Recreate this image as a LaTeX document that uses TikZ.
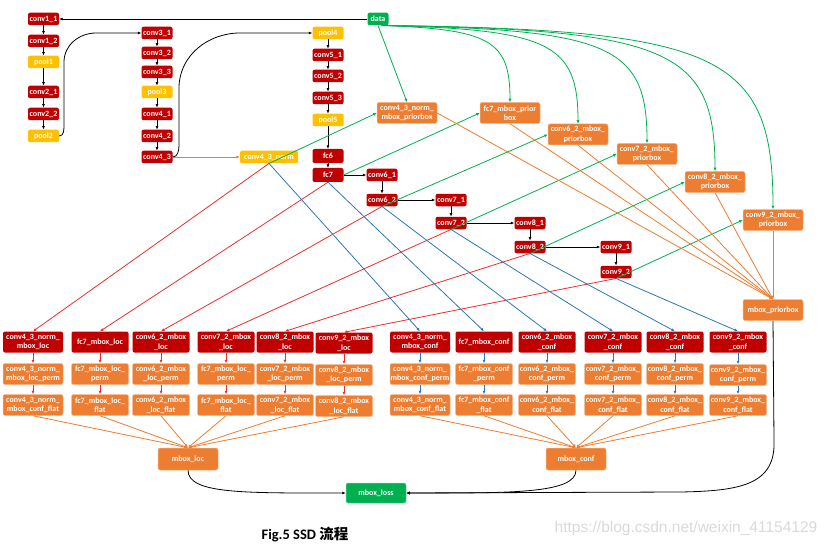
\documentclass[tikz,border=0pt]{standalone}
\usepackage{fontspec}
\setmainfont{Carlito}
\newfontfamily\cjkfont{Noto Sans CJK SC}
\newfontfamily\markfont{Liberation Sans}
\usetikzlibrary{arrows.meta}
\definecolor{convred}{RGB}{192,0,0}
\definecolor{poolyellow}{RGB}{255,192,0}
\definecolor{headorange}{RGB}{237,125,49}
\definecolor{datagreen}{RGB}{0,176,80}
\definecolor{locred}{RGB}{235,45,45}
\definecolor{confblue}{RGB}{46,117,182}
\begin{document}
\begin{tikzpicture}[x=1pt,y=-1pt,
  box/.style={rounded corners=2pt,text=white,font=\bfseries\fontsize{8}{9.5}\selectfont,align=center,inner sep=0pt,minimum width=31pt,minimum height=12.5pt},
  convbox/.style={box,fill=convred},
  poolbox/.style={box,fill=poolyellow},
  greenbox/.style={box,fill=datagreen},
  headbox/.style={box,fill=convred,minimum width=57pt,minimum height=21pt},
  orangebox/.style={box,fill=headorange,draw=headorange!55!white,line width=0.5pt,minimum width=57pt,minimum height=21pt},
  link/.style={-{Latex[length=3.5pt,width=3pt]},line width=0.8pt},
  priorlink/.style={link,draw=datagreen},
  loclink/.style={link,draw=locred},
  conflink/.style={link,draw=confblue},
  boxlink/.style={link,draw=headorange}]
\useasboundingbox (0,0) rectangle (829,548);

\node[greenbox,minimum width=21pt] (data) at (378,19) {data};
\node[convbox] (conv1_1) at (43.5,19) {conv1\_1};
\node[convbox] (conv1_2) at (43.5,41) {conv1\_2};
\node[poolbox] (pool1) at (43.5,62) {pool1};
\node[convbox] (conv2_1) at (43.5,92) {conv2\_1};
\node[convbox] (conv2_2) at (43.5,114) {conv2\_2};
\node[poolbox] (pool2) at (43.5,136) {pool2};
\node[convbox] (conv3_1) at (157,33) {conv3\_1};
\node[convbox] (conv3_2) at (157,53) {conv3\_2};
\node[convbox] (conv3_3) at (157,72) {conv3\_3};
\node[poolbox] (pool3) at (157,92) {pool3};
\node[convbox] (conv4_1) at (157,114) {conv4\_1};
\node[convbox] (conv4_2) at (157,136) {conv4\_2};
\node[convbox] (conv4_3) at (157,157) {conv4\_3};
\node[poolbox,minimum width=58pt] (conv4_3_norm) at (269,157) {conv4\_3\_norm};
\node[poolbox] (pool4) at (328,33) {pool4};
\node[convbox] (conv5_1) at (328,55) {conv5\_1};
\node[convbox] (conv5_2) at (328,76) {conv5\_2};
\node[convbox] (conv5_3) at (328,98) {conv5\_3};
\node[poolbox] (pool5) at (328,120) {pool5};
\node[convbox,minimum height=14pt] (fc6) at (328,156) {fc6};
\node[convbox,minimum height=14pt] (fc7) at (328,175) {fc7};
\node[convbox] (conv6_1) at (382,175) {conv6\_1};
\node[convbox] (conv6_2) at (382,200) {conv6\_2};
\node[convbox] (conv7_1) at (451,200) {conv7\_1};
\node[convbox] (conv7_2) at (451,223) {conv7\_2};
\node[convbox] (conv8_1) at (530,223) {conv8\_1};
\node[convbox] (conv8_2) at (530,247) {conv8\_2};
\node[convbox] (conv9_1) at (616,247) {conv9\_1};
\node[convbox] (conv9_2) at (616,272) {conv9\_2};

\node[orangebox,minimum width=60pt] (norm_prior) at (407,113) {conv4\_3\_norm\_\\mbox\_priorbox};
\node[orangebox,minimum width=60pt] (fc7_prior) at (510,113) {fc7\_mbox\_prior\\box};
\node[orangebox,minimum width=60pt] (conv6_2_prior) at (578,134.5) {conv6\_2\_mbox\_\\priorbox};
\node[orangebox,minimum width=60pt] (conv7_2_prior) at (647,154) {conv7\_2\_mbox\_\\priorbox};
\node[orangebox,minimum width=60pt] (conv8_2_prior) at (715,182) {conv8\_2\_mbox\_\\priorbox};
\node[orangebox,minimum width=60pt] (conv9_2_prior) at (773,220) {conv9\_2\_mbox\_\\priorbox};
\node[orangebox,minimum width=60pt] (mbox_priorbox) at (773,310) {mbox\_priorbox};

\node[headbox,minimum width=60pt] (norm_loc) at (33,342) {conv4\_3\_norm\_\\mbox\_loc};
\node[headbox] (fc7_loc) at (100,342) {fc7\_mbox\_loc};
\node[headbox] (conv6_2_loc) at (161,342) {conv6\_2\_mbox\\\_loc};
\node[headbox] (conv7_2_loc) at (226,342) {conv7\_2\_mbox\\\_loc};
\node[headbox] (conv8_2_loc) at (285,342) {conv8\_2\_mbox\\\_loc};
\node[headbox] (conv9_2_loc) at (344,343) {conv9\_2\_mbox\\\_loc};
\node[orangebox,minimum width=60pt] (norm_loc_perm) at (33,374) {conv4\_3\_norm\_\\mbox\_loc\_perm};
\node[orangebox] (fc7_loc_perm) at (100,374) {fc7\_mbox\_loc\_\\perm};
\node[orangebox] (conv6_2_loc_perm) at (161,374) {conv6\_2\_mbox\\\_loc\_perm};
\node[orangebox] (conv7_2_loc_perm) at (226,374) {fc7\_mbox\_loc\_\\perm};
\node[orangebox] (conv8_2_loc_perm) at (285,374) {conv7\_2\_mbox\\\_loc\_perm};
\node[orangebox] (conv9_2_loc_perm) at (344,375) {conv8\_2\_mbox\\\_loc\_perm};
\node[orangebox,minimum width=60pt] (norm_loc_flat) at (33,405) {conv4\_3\_norm\_\\mbox\_conf\_flat};
\node[orangebox] (fc7_loc_flat) at (100,405) {fc7\_mbox\_loc\_\\flat};
\node[orangebox] (conv6_2_loc_flat) at (161,405) {conv6\_2\_mbox\\\_loc\_flat};
\node[orangebox] (conv7_2_loc_flat) at (226,405) {fc7\_mbox\_loc\_\\flat};
\node[orangebox] (conv8_2_loc_flat) at (285,405) {conv7\_2\_mbox\\\_loc\_flat};
\node[orangebox] (conv9_2_loc_flat) at (344,406) {conv8\_2\_mbox\\\_loc\_flat};

\node[headbox,minimum width=60pt] (norm_conf) at (420,342) {conv4\_3\_norm\_\\mbox\_conf};
\node[headbox] (fc7_conf) at (484,342) {fc7\_mbox\_conf};
\node[headbox] (conv6_2_conf) at (547,342) {conv6\_2\_mbox\\\_conf};
\node[headbox] (conv7_2_conf) at (613,342) {conv7\_2\_mbox\\\_conf};
\node[headbox] (conv8_2_conf) at (675,342) {conv8\_2\_mbox\\\_conf};
\node[headbox] (conv9_2_conf) at (738,342) {conv9\_2\_mbox\\\_conf};
\node[orangebox,minimum width=60pt] (norm_conf_perm) at (420,374) {conv4\_3\_norm\_\\mbox\_conf\_perm};
\node[orangebox] (fc7_conf_perm) at (484,374) {fc7\_mbox\_conf\\\_perm};
\node[orangebox] (conv6_2_conf_perm) at (547,374) {conv6\_2\_mbox\_\\conf\_perm};
\node[orangebox] (conv7_2_conf_perm) at (613,374) {conv7\_2\_mbox\_\\conf\_perm};
\node[orangebox] (conv8_2_conf_perm) at (675,374) {conv8\_2\_mbox\_\\conf\_perm};
\node[orangebox] (conv9_2_conf_perm) at (738,375) {conv9\_2\_mbox\_\\conf\_perm};
\node[orangebox,minimum width=60pt] (norm_conf_flat) at (420,405) {conv4\_3\_norm\_\\mbox\_conf\_flat};
\node[orangebox] (fc7_conf_flat) at (484,405) {fc7\_mbox\_conf\\\_flat};
\node[orangebox] (conv6_2_conf_flat) at (547,405) {conv6\_2\_mbox\_\\conf\_flat};
\node[orangebox] (conv7_2_conf_flat) at (613,405) {conv7\_2\_mbox\_\\conf\_flat};
\node[orangebox] (conv8_2_conf_flat) at (675,405) {conv8\_2\_mbox\_\\conf\_flat};
\node[orangebox] (conv9_2_conf_flat) at (738,405) {conv9\_2\_mbox\_\\conf\_flat};

\node[orangebox,minimum width=60pt,minimum height=22pt] (mbox_loc) at (188,459) {mbox\_loc};
\node[orangebox,minimum width=60pt,minimum height=22pt] (mbox_conf) at (576,459) {mbox\_conf};
\node[greenbox,minimum width=60pt,minimum height=20pt,draw=datagreen!55!white,line width=0.5pt] (mbox_loss) at (376,493) {mbox\_loss};

\node[font=\bfseries\fontsize{14.5}{16}\selectfont] (title) at (305,535) {Fig.5 SSD {\cjkfont 流程}};
\node[font=\markfont\fontsize{15.5}{17}\selectfont,text=gray!30] (mark) at (686,528) {https://blog.csdn.net/weixin\_41154129};

\draw[link] (data) -- (conv1_1);
\draw[link] (conv1_1) -- (conv1_2);
\draw[link] (conv1_2) -- (pool1);
\draw[link] (pool1) -- (conv2_1);
\draw[link] (conv2_1) -- (conv2_2);
\draw[link] (conv2_2) -- (pool2);
\draw[link] (pool2.east) to[out=0,in=-90] (64,124) -- (64,62) to[out=90,in=180] (96,33) -- (conv3_1.west);
\draw[link] (conv3_1) -- (conv3_2);
\draw[link] (conv3_2) -- (conv3_3);
\draw[link] (conv3_3) -- (pool3);
\draw[link] (pool3) -- (conv4_1);
\draw[link] (conv4_1) -- (conv4_2);
\draw[link] (conv4_2) -- (conv4_3);
\draw[link] (conv4_3.east) to[out=0,in=-90] (179,145) -- (179,88) to[out=90,in=180] (240,33) -- (pool4.west);
\draw[boxlink] (conv4_3) -- (conv4_3_norm);
\draw[link] (pool4) -- (conv5_1);
\draw[link] (conv5_1) -- (conv5_2);
\draw[link] (conv5_2) -- (conv5_3);
\draw[link] (conv5_3) -- (pool5);
\draw[link] (pool5) -- (fc6);
\draw[link] (fc6) -- (fc7);
\draw[link] (fc7) -- (conv6_1);
\draw[link] (conv6_1) -- (conv6_2);
\draw[link] (conv6_2) -- (conv7_1);
\draw[link] (conv7_1) -- (conv7_2);
\draw[link] (conv7_2) -- (conv8_1);
\draw[link] (conv8_1) -- (conv8_2);
\draw[link] (conv8_2) -- (conv9_1);
\draw[link] (conv9_1) -- (conv9_2);

\draw[priorlink] (data.south) -- (norm_prior.north);
\draw[priorlink] (data.300) .. controls +(108,4) and +(0,-62) .. (fc7_prior.north);
\draw[priorlink] (data.300) .. controls +(168,4) and +(0,-80) .. (conv6_2_prior.north);
\draw[priorlink] (data.300) .. controls +(228,4) and +(0,-98) .. (conv7_2_prior.north);
\draw[priorlink] (data.300) .. controls +(286,4) and +(0,-122) .. (conv8_2_prior.north);
\draw[priorlink] (data.300) .. controls +(338,4) and +(0,-155) .. (conv9_2_prior.north);
\draw[priorlink] (conv4_3_norm.south) -- (norm_prior.west);
\draw[priorlink] (fc7.east) -- (fc7_prior.west);
\draw[priorlink] (conv6_2.south) -- (conv6_2_prior.west);
\draw[priorlink] (conv7_2.south) -- (conv7_2_prior.west);
\draw[priorlink] (conv8_2.south) -- (conv8_2_prior.west);
\draw[priorlink] (conv9_2.south) -- (conv9_2_prior.west);

\draw[boxlink] (norm_prior.east) -- (mbox_priorbox.north);
\draw[boxlink] (fc7_prior.south) -- (mbox_priorbox.north);
\draw[boxlink] (conv6_2_prior.south) -- (mbox_priorbox.north);
\draw[boxlink] (conv7_2_prior.south) -- (mbox_priorbox.north);
\draw[boxlink] (conv8_2_prior.south) -- (mbox_priorbox.north);
\draw[boxlink] (conv9_2_prior.south) -- (mbox_priorbox.north);

\draw[loclink] (conv4_3_norm.south) -- (norm_loc.north);
\draw[loclink] (fc7.south) -- (fc7_loc.north);
\draw[loclink] (conv6_2.south) -- (conv6_2_loc.north);
\draw[loclink] (conv7_2.south) -- (conv7_2_loc.north);
\draw[loclink] (conv8_2.south) -- (conv8_2_loc.north);
\draw[loclink] (conv9_2.south) -- (conv9_2_loc.north);
\draw[conflink] (conv4_3_norm.south) -- (norm_conf.north);
\draw[conflink] (fc7.south) -- (fc7_conf.north);
\draw[conflink] (conv6_2.south) -- (conv6_2_conf.north);
\draw[conflink] (conv7_2.south) -- (conv7_2_conf.north);
\draw[conflink] (conv8_2.south) -- (conv8_2_conf.north);
\draw[conflink] (conv9_2.south) -- (conv9_2_conf.north);

\draw[loclink] (norm_loc) -- (norm_loc_perm);
\draw[loclink] (norm_loc_perm) -- (norm_loc_flat);
\draw[loclink] (fc7_loc) -- (fc7_loc_perm);
\draw[loclink] (fc7_loc_perm) -- (fc7_loc_flat);
\draw[loclink] (conv6_2_loc) -- (conv6_2_loc_perm);
\draw[loclink] (conv6_2_loc_perm) -- (conv6_2_loc_flat);
\draw[loclink] (conv7_2_loc) -- (conv7_2_loc_perm);
\draw[loclink] (conv7_2_loc_perm) -- (conv7_2_loc_flat);
\draw[loclink] (conv8_2_loc) -- (conv8_2_loc_perm);
\draw[loclink] (conv8_2_loc_perm) -- (conv8_2_loc_flat);
\draw[loclink] (conv9_2_loc) -- (conv9_2_loc_perm);
\draw[loclink] (conv9_2_loc_perm) -- (conv9_2_loc_flat);
\draw[conflink] (norm_conf) -- (norm_conf_perm);
\draw[conflink] (norm_conf_perm) -- (norm_conf_flat);
\draw[conflink] (fc7_conf) -- (fc7_conf_perm);
\draw[conflink] (fc7_conf_perm) -- (fc7_conf_flat);
\draw[conflink] (conv6_2_conf) -- (conv6_2_conf_perm);
\draw[conflink] (conv6_2_conf_perm) -- (conv6_2_conf_flat);
\draw[conflink] (conv7_2_conf) -- (conv7_2_conf_perm);
\draw[conflink] (conv7_2_conf_perm) -- (conv7_2_conf_flat);
\draw[conflink] (conv8_2_conf) -- (conv8_2_conf_perm);
\draw[conflink] (conv8_2_conf_perm) -- (conv8_2_conf_flat);
\draw[conflink] (conv9_2_conf) -- (conv9_2_conf_perm);
\draw[conflink] (conv9_2_conf_perm) -- (conv9_2_conf_flat);

\draw[boxlink] (norm_loc_flat.south) -- (mbox_loc.north);
\draw[boxlink] (fc7_loc_flat.south) -- (mbox_loc.north);
\draw[boxlink] (conv6_2_loc_flat.south) -- (mbox_loc.north);
\draw[boxlink] (conv7_2_loc_flat.south) -- (mbox_loc.north);
\draw[boxlink] (conv8_2_loc_flat.south) -- (mbox_loc.north);
\draw[boxlink] (conv9_2_loc_flat.south) -- (mbox_loc.north);
\draw[boxlink] (norm_conf_flat.south) -- (mbox_conf.north);
\draw[boxlink] (fc7_conf_flat.south) -- (mbox_conf.north);
\draw[boxlink] (conv6_2_conf_flat.south) -- (mbox_conf.north);
\draw[boxlink] (conv7_2_conf_flat.south) -- (mbox_conf.north);
\draw[boxlink] (conv8_2_conf_flat.south) -- (mbox_conf.north);
\draw[boxlink] (conv9_2_conf_flat.south) -- (mbox_conf.north);

\draw[link] (mbox_loc.south) .. controls +(0,24) and +(-100,0) .. (mbox_loss.west);
\draw[link] (mbox_conf.south) .. controls +(0,24) and +(100,0) .. (mbox_loss.east);
\draw[link] (mbox_priorbox.south) -- (774,440) .. controls (776,485) and (740,491) .. (680,492) -- (mbox_loss.east);
\end{tikzpicture}
\end{document}
